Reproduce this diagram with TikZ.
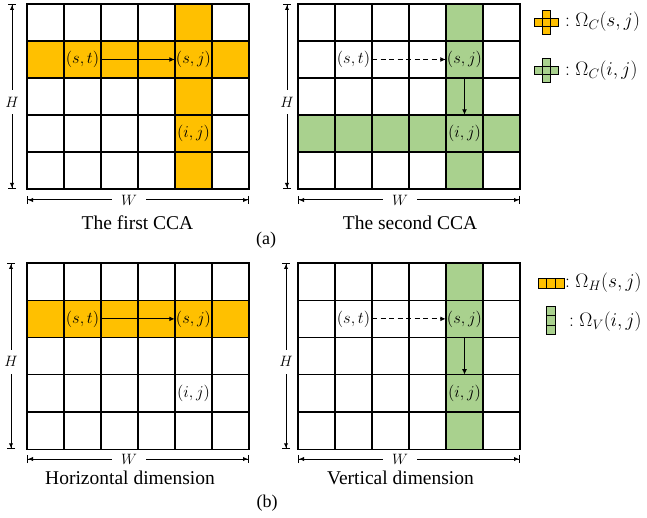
\RequirePackage{fix-cm}
\documentclass[tikz,border=0pt]{standalone}
\usepackage[no-math]{fontspec}
\newfontfamily\capfont{Liberation Serif}
\usetikzlibrary{arrows.meta}
\definecolor{cOrange}{HTML}{FFC000}
\definecolor{cGreen}{HTML}{A9D18E}
\tikzset{
  gridline/.style={line width=1.2pt, draw=black},
  lbl/.style={inner sep=0pt, minimum width=37pt, minimum height=37pt, font=\fontsize{16.5}{18}\selectfont},
  conn/.style={line width=1.1pt, -{Latex[length=5.5pt,width=5pt]}},
  dashconn/.style={conn, dash pattern=on 5pt off 3.5pt},
  dimline/.style={line width=1pt, {Bar[width=8pt]Latex[length=5pt,width=4.5pt]}-{Latex[length=5pt,width=4.5pt]Bar[width=8pt]}},
  hlbl/.style={fill=white, inner xsep=1pt, inner ysep=7pt, font=\fontsize{15}{17}\selectfont},
  wlbl/.style={fill=white, inner xsep=9pt, inner ysep=1pt, font=\fontsize{15}{17}\selectfont},
  capt/.style={font=\capfont\fontsize{19.5}{22}\selectfont, anchor=base, inner sep=0pt},
  sublbl/.style={font=\capfont\fontsize{18}{20}\selectfont, anchor=base, inner sep=0pt},
  legtxt/.style={font=\fontsize{19.5}{22}\selectfont, anchor=west, inner sep=0pt},
  iconcell/.style={draw=black, line width=0.9pt},
}
\newcommand\cellgrid[2]{%
  \draw[gridline] (0,0) rectangle ({6*#1},{5*#2});
  \foreach \i in {1,...,5} \draw[gridline] ({\i*#1},0) -- ({\i*#1},{5*#2});
  \foreach \j in {1,...,4} \draw[gridline] (0,{\j*#2}) -- ({6*#1},{\j*#2});
}
\newcommand\crossicon[3]{%
  \foreach \dx/\dy in {0/0,-1/0,1/0,0/-1,0/1}
    \draw[iconcell, fill=#3] ({#1+\dx*8-4},{#2+\dy*8-4}) rectangle ({#1+\dx*8+4},{#2+\dy*8+4});
}
\begin{document}
\begin{tikzpicture}[x=1pt,y=-1pt]
\useasboundingbox (0,0) rectangle (647,518);

% ---------- grid 1: the first CCA ----------
\begin{scope}[shift={(27,4)}]
  \fill[cOrange] (0,37) rectangle (222,74);
  \fill[cOrange] (148,0) rectangle (185,185);
  \cellgrid{37}{37}
  \node[lbl] (st1) at (55.5,55.5) {$(s,t)$};
  \node[lbl] (sj1) at (166.5,55.5) {$(s,j)$};
  \node[lbl] (ij1) at (166.5,129.5) {$(i,j)$};
  \draw[conn] (st1) -- (sj1);
  \coordinate (h1t) at (-15,0); \coordinate (h1b) at (-15,185);
  \draw[dimline] (h1t) -- node[hlbl,pos=0.53] (hl1) {$H$} (h1b);
  \coordinate (w1l) at (0,196); \coordinate (w1r) at (222,196);
  \draw[dimline] (w1l) -- node[wlbl,pos=0.46] (wl1) {$W$} (w1r);
  \node[capt] (cap1) at (110.5,226) {The first CCA};
\end{scope}

% ---------- grid 2: the second CCA ----------
\begin{scope}[shift={(298,4)}]
  \fill[cGreen] (0,111) rectangle (222,148);
  \fill[cGreen] (148,0) rectangle (185,185);
  \cellgrid{37}{37}
  \node[lbl] (st2) at (55.5,55.5) {$(s,t)$};
  \node[lbl] (sj2) at (166.5,55.5) {$(s,j)$};
  \node[lbl] (ij2) at (166.5,129.5) {$(i,j)$};
  \draw[dashconn] (st2) -- (sj2);
  \draw[conn] (sj2.south) -- (ij2.north);
  \coordinate (h2t) at (-11,0); \coordinate (h2b) at (-11,185);
  \draw[dimline] (h2t) -- node[hlbl,pos=0.53] (hl2) {$H$} (h2b);
  \coordinate (w2l) at (0,196); \coordinate (w2r) at (222,196);
  \draw[dimline] (w2l) -- node[wlbl,pos=0.46] (wl2) {$W$} (w2r);
  \node[capt] (cap2) at (112,226) {The second CCA};
\end{scope}

% ---------- grid 3: horizontal dimension ----------
\begin{scope}[shift={(27,263)}]
  \fill[cOrange] (0,37.25) rectangle (222,74.5);
  \cellgrid{37}{37.25}
  \node[lbl] (st3) at (55.5,55.875) {$(s,t)$};
  \node[lbl] (sj3) at (166.5,55.875) {$(s,j)$};
  \node[lbl] (ij3) at (166.5,130.375) {$(i,j)$};
  \draw[conn] (st3) -- (sj3);
  \coordinate (h3t) at (-16,0); \coordinate (h3b) at (-16,186.25);
  \draw[dimline] (h3t) -- node[hlbl,pos=0.53] (hl3) {$H$} (h3b);
  \coordinate (w3l) at (0,196); \coordinate (w3r) at (222,196);
  \draw[dimline] (w3l) -- node[wlbl,pos=0.46] (wl3) {$W$} (w3r);
  \node[capt] (cap3) at (103,221) {Horizontal dimension};
\end{scope}

% ---------- grid 4: vertical dimension ----------
\begin{scope}[shift={(298,263)}]
  \fill[cGreen] (148,0) rectangle (185,186.25);
  \cellgrid{37}{37.25}
  \node[lbl] (st4) at (55.5,55.875) {$(s,t)$};
  \node[lbl] (sj4) at (166.5,55.875) {$(s,j)$};
  \node[lbl] (ij4) at (166.5,130.375) {$(i,j)$};
  \draw[dashconn] (st4) -- (sj4);
  \draw[conn] (sj4.south) -- (ij4.north);
  \coordinate (h4t) at (-12,0); \coordinate (h4b) at (-12,186.25);
  \draw[dimline] (h4t) -- node[hlbl,pos=0.53] (hl4) {$H$} (h4b);
  \coordinate (w4l) at (0,196); \coordinate (w4r) at (222,196);
  \draw[dimline] (w4l) -- node[wlbl,pos=0.46] (wl4) {$W$} (w4r);
  \node[capt] (cap4) at (102.5,221) {Vertical dimension};
\end{scope}

% ---------- sub-figure labels ----------
\node[sublbl] (suba) at (266,245) {(a)};
\node[sublbl] (subb) at (267,507) {(b)};

% ---------- legends ----------
\crossicon{546}{22}{cOrange}
\node[legtxt] (leg1) at (565,22) {${:}\;\Omega_C(s,j)$};
\crossicon{546}{70}{cGreen}
\node[legtxt] (leg2) at (565,71) {${:}\;\Omega_C(i,j)$};

\foreach \k in {0,1,2}
  \draw[iconcell, fill=cOrange] ({538+\k*8.8},278.5) rectangle ({538+(\k+1)*8.8},288);
\node[legtxt] (leg3) at (565,283) {${:}\;\Omega_H(s,j)$};
\foreach \k in {0,1,2}
  \draw[iconcell, fill=cGreen] (546.5,{306+\k*9.5}) rectangle (555.5,{306+(\k+1)*9.5});
\node[legtxt] (leg4) at (569,322) {${:}\;\Omega_V(i,j)$};
\end{tikzpicture}
\end{document}
